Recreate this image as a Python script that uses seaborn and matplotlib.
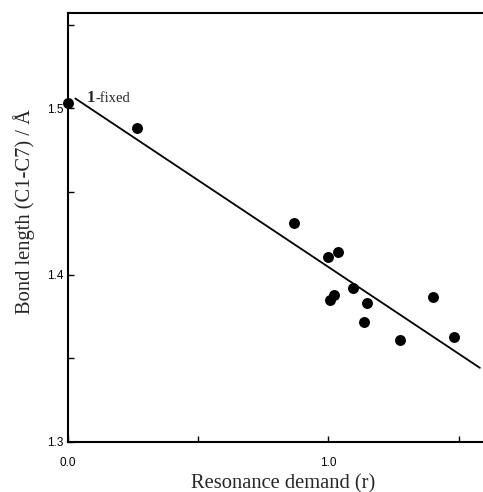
import numpy as np
import pandas as pd
import matplotlib
matplotlib.use("Agg")
import matplotlib.pyplot as plt
import seaborn as sns

# Data
resonance_r = [0.000, 0.266, 0.869, 0.997, 1.037, 1.007, 1.021, 1.093, 1.148, 1.137, 1.275, 1.399, 1.480]
bond_length = [1.503, 1.488, 1.431, 1.411, 1.414, 1.385, 1.388, 1.392, 1.383, 1.372, 1.361, 1.387, 1.363]

line_x_range = [0.03, 1.58]
line_slope = -0.1043
line_intercept = 1.509

x_ticks = [0.0, 0.5, 1.0, 1.5]
x_tick_labels = ["0.0", "", "1.0", ""]
y_ticks = [1.3, 1.35, 1.4, 1.45, 1.5, 1.55]
y_tick_labels = ["1.3", "", "1.4", "", "1.5", ""]

sns.set_theme(style="white")
plt.rcParams["font.family"] = ["Liberation Sans", "DejaVu Sans"]

df = pd.DataFrame({"r": resonance_r, "bond": bond_length})
fit_x = np.array(line_x_range)
fit_df = pd.DataFrame({"r": fit_x, "bond": line_intercept + line_slope * fit_x})

W, H = 483, 492
x0, x1 = 67.5, 483
y_bot, y_top = 441.5, 13.3

fig = plt.figure(figsize=(W / 100, H / 100), dpi=100)
ax = fig.add_axes([x0 / W, 1 - y_bot / H, (x1 - x0) / W, (y_bot - y_top) / H])

sns.lineplot(data=fit_df, x="r", y="bond", ax=ax, color="black", linewidth=1.3)
sns.scatterplot(data=df, x="r", y="bond", ax=ax, color="black", s=62,
                edgecolor="black", linewidth=0, clip_on=False, zorder=5)

ax.set_xlim(0.0, 1.592)
ax.set_ylim(1.3, 1.557)

ax.set_xticks(x_ticks)
ax.set_xticklabels(x_tick_labels)
ax.set_yticks(y_ticks)
ax.set_yticklabels(y_tick_labels)

ax.tick_params(axis="both", direction="in", length=4.5, width=1, color="black",
               labelsize=8.5, labelcolor="black", bottom=True, left=True)
ax.tick_params(axis="x", pad=11)
ax.tick_params(axis="y", pad=3)

for side in ["left", "bottom", "top"]:
    ax.spines[side].set_visible(True)
    ax.spines[side].set_color("black")
    ax.spines[side].set_linewidth(1.5)
ax.spines["right"].set_visible(False)

serif = ["Liberation Serif", "DejaVu Serif"]
ax.set_xlabel("Resonance demand (r)", family=serif, fontsize=14.8)
ax.set_ylabel("Bond length (C1-C7) / Å", family=serif, fontsize=14.8)
ax.xaxis.label.set_va("baseline")
ax.yaxis.label.set_va("center")
ax.xaxis.set_label_coords((283 - x0) / (x1 - x0), -(488 - y_bot) / (y_bot - y_top), transform=ax.transAxes)
ax.yaxis.set_label_coords(-(x0 - 24) / (x1 - x0), (y_bot - 212) / (y_bot - y_top), transform=ax.transAxes)

ax.text(0.0747, 1.504, "1", family=serif, fontweight="bold",
        fontsize=12, ha="left", va="baseline")
ax.text(0.107, 1.504, "-fixed", family=serif,
        fontsize=10.5, ha="left", va="baseline")

fig.savefig("out.png", dpi=100)
